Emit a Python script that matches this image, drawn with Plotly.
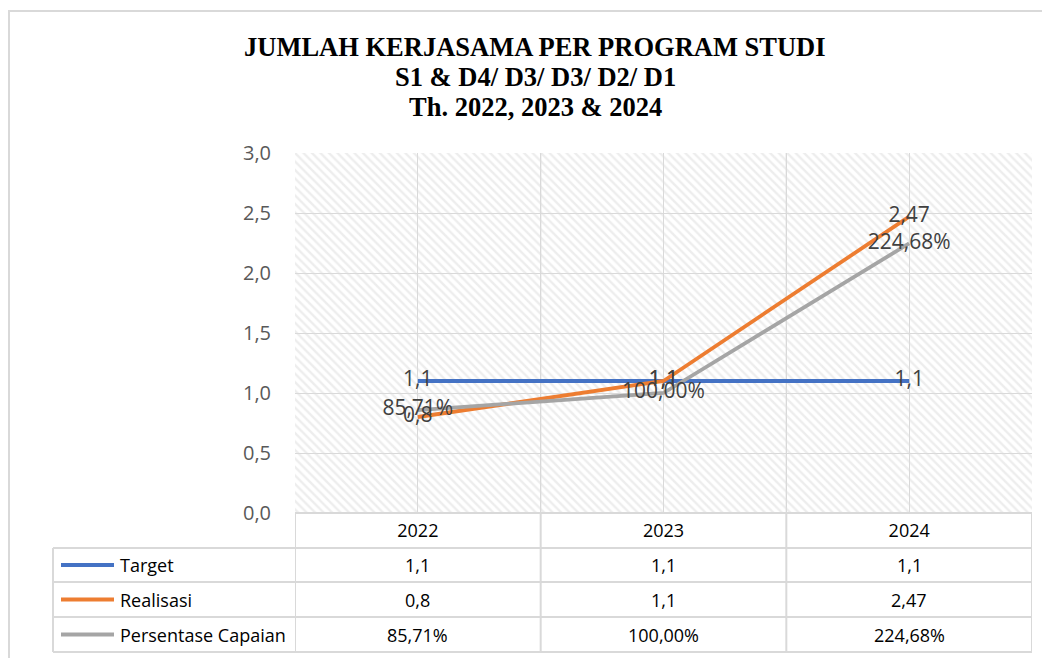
import plotly.graph_objects as go

# ---------------- data ----------------
years = ["2022", "2023", "2024"]
target = [1.1, 1.1, 1.1]
realisasi = [0.8, 1.1, 2.47]
persentase = [0.8571, 1.0, 2.2468]  # shown as percent
series_names = ["Target", "Realisasi", "Persentase Capaian"]
series_colors = ["#4472C4", "#ED7D31", "#A5A5A5"]
y_max = 3.0
y_step = 0.5
title_lines = ["JUMLAH KERJASAMA PER PROGRAM STUDI", "S1 &amp; D4/ D3/ D3/ D2/ D1", "Th. 2022, 2023 &amp; 2024"]


def fmt_num(v):
    s = f"{v:.2f}".rstrip("0").rstrip(".")
    return s.replace(".", ",")


def fmt_pct(v):
    return f"{v * 100:.2f}%".replace(".", ",")


series_values = [target, realisasi, persentase]
series_text = [[fmt_num(v) for v in target], [fmt_num(v) for v in realisasi], [fmt_pct(v) for v in persentase]]

# ---------------- geometry (page pixels) ----------------
OFF = 8  # default body margin of the html page
W, H = 1050 - OFF, 658 - OFF
PL, PR, PT, PB = 295, 1032, 153, 513
TABLE_L = 53
ROWS = [513, 548, 582, 617, 652]


def xp(px):
    return (px - PL) / (PR - PL)


def yp(py):
    return (PB - py) / (PB - PT)


GRID = "#d9d9d9"
FONT = "Open Sans"

fig = go.Figure()

# hatched plot background
fig.add_trace(go.Bar(
    x=list(range(len(years))), y=[y_max] * len(years), width=1,
    marker=dict(color="rgba(0,0,0,0)", line=dict(width=0),
                pattern=dict(shape="\\", fgcolor="#dcdcdc", bgcolor="rgba(0,0,0,0)", size=6, solidity=0.4)),
    hoverinfo="skip", showlegend=False,
))

# lines
for name, vals, col in zip(series_names, series_values, series_colors):
    fig.add_trace(go.Scatter(x=list(range(len(years))), y=vals, mode="lines", name=name,
                             line=dict(color=col, width=3.8), showlegend=False))

# data labels on top
for name, vals, txt in zip(series_names, series_values, series_text):
    fig.add_trace(go.Scatter(x=list(range(len(years))), y=vals, mode="text", text=txt, textposition="middle center",
                             textfont=dict(family=FONT, size=21, color="#404040"),
                             showlegend=False, hoverinfo="skip"))

shapes = []
# outer chart border
shapes.append(dict(type="rect", xref="paper", yref="paper", x0=xp(OFF + 1), x1=xp(1080), y0=yp(700), y1=yp(11),
                   line=dict(color=GRID, width=2), fillcolor="rgba(0,0,0,0)", layer="below"))
# category boundary gridlines in plot
for b in [0.5, 1.5]:
    shapes.append(dict(type="line", xref="x", yref="paper", x0=b, x1=b, y0=0, y1=1,
                       line=dict(color=GRID, width=1.3), layer="below"))
# table horizontal lines
shapes.append(dict(type="line", xref="paper", yref="paper", x0=xp(PL), x1=xp(PR), y0=yp(ROWS[0]), y1=yp(ROWS[0]),
                   line=dict(color=GRID, width=2)))
for r in ROWS[1:]:
    shapes.append(dict(type="line", xref="paper", yref="paper", x0=xp(TABLE_L), x1=xp(PR), y0=yp(r), y1=yp(r),
                       line=dict(color=GRID, width=2)))
# table vertical lines
shapes.append(dict(type="line", xref="paper", yref="paper", x0=xp(TABLE_L), x1=xp(TABLE_L), y0=yp(ROWS[1]), y1=yp(ROWS[-1]),
                   line=dict(color=GRID, width=2)))
for b in [-0.5, 0.5, 1.5, 2.5]:
    shapes.append(dict(type="line", xref="x", yref="paper", x0=b, x1=b, y0=yp(ROWS[0]), y1=yp(ROWS[-1]),
                       line=dict(color=GRID, width=2)))

annotations = []
# title lines
for k, line in enumerate(title_lines):
    annotations.append(dict(xref="paper", yref="paper", x=xp(535), y=yp(47 + 30 * k), text="<b>" + line + "</b>",
                            showarrow=False, xanchor="center", yanchor="middle",
                            font=dict(family="Liberation Serif", size=26.5, color="#000000")))

for i, (name, col, txt) in enumerate(zip(series_names, series_colors, series_text)):
    yc = (ROWS[i + 1] + ROWS[i + 2]) / 2
    shapes.append(dict(type="line", xref="paper", yref="paper", x0=xp(61), x1=xp(114), y0=yp(yc), y1=yp(yc),
                       line=dict(color=col, width=4)))
    annotations.append(dict(xref="paper", yref="paper", x=xp(118), y=yp(yc), text=name, showarrow=False,
                            xanchor="left", yanchor="middle", font=dict(family=FONT, size=18, color="#000000")))
    for j, t in enumerate(txt):
        annotations.append(dict(xref="x", yref="paper", x=j, y=yp(yc), text=t, showarrow=False,
                                xanchor="center", yanchor="middle", font=dict(family=FONT, size=18, color="#000000")))

fig.update_layout(
    width=W, height=H,
    margin=dict(l=PL - OFF, r=1050 - PR, t=PT - OFF, b=658 - PB),
    paper_bgcolor="white", plot_bgcolor="white",
    separators=",.",
    shapes=shapes, annotations=annotations,
    bargap=0,
)
fig.update_xaxes(range=[-0.5, 2.5], tickmode="array", tickvals=list(range(len(years))), ticktext=years,
                 showgrid=True, gridcolor=GRID, gridwidth=1,
                 showline=False, zeroline=False, ticks="", ticklabelstandoff=5,
                 tickfont=dict(family=FONT, size=18, color="#000000"))
fig.update_yaxes(range=[0, y_max], dtick=y_step, tick0=0, tickformat=".1f", showgrid=True, gridcolor=GRID,
                 gridwidth=1.3, zeroline=False, showline=False, ticks="", ticklabelstandoff=23,
                 tickfont=dict(family=FONT, size=20, color="#595959"))

fig.write_html("out.html")
